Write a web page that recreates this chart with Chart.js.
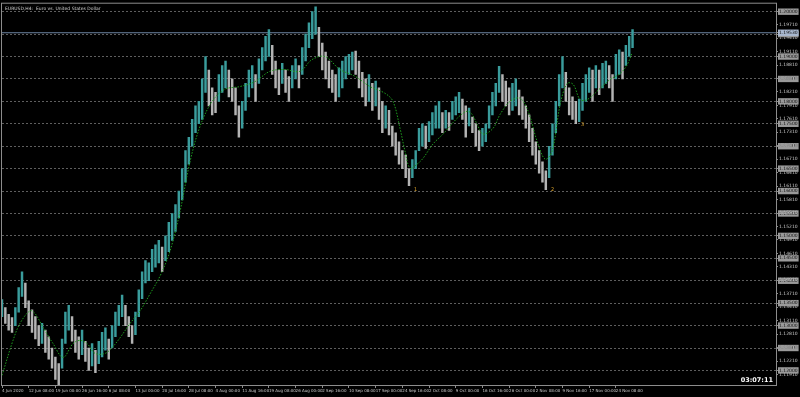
<!DOCTYPE html>
<html>
<head>
<meta charset="utf-8">
<title>EURUSD,H4</title>
<script src="https://cdn.jsdelivr.net/npm/chart.js@4"></script>
<style>
	html, body { margin: 0; background: #000; }
	#wrap { width: 800px; height: 397px; }
</style>
</head>
<body>
<div id="wrap"><canvas id="chart"></canvas></div>
<script>
const titleText = 'EURUSD,H4:  Euro vs. United States Dollar'
const clockText = '03:07:11'

// x axis: one label every 8 bars, axis runs to bar 232 (MT4 chart shift)
const timeLabels = ['4 Jun 2020', '12 Jun 08:00', '19 Jun 00:00', '26 Jun 16:00', '6 Jul 08:00', '13 Jul 00:00',
	'20 Jul 16:00', '28 Jul 08:00', '4 Aug 00:00', '11 Aug 16:00', '19 Aug 08:00', '26 Aug 00:00',
	'2 Sep 16:00', '10 Sep 08:00', '17 Sep 00:00', '24 Sep 16:00', '2 Oct 08:00', '9 Oct 00:00',
	'16 Oct 16:00', '26 Oct 00:00', '2 Nov 08:00', '9 Nov 16:00', '17 Nov 00:00', '24 Nov 08:00']
const barsPerLabel = 8
const lastIndex = 232

const lows = [
	1.1320, 1.1305, 1.1290, 1.1285, 1.1300, 1.1330, 1.1365, 1.1340, 1.1300, 1.1285,
	1.1270, 1.1255, 1.1260, 1.1240, 1.1225, 1.1205, 1.1180, 1.1168, 1.1205, 1.1260,
	1.1290, 1.1265, 1.1240, 1.1225, 1.1235, 1.1220, 1.1200, 1.1210, 1.1195, 1.1215,
	1.1230, 1.1245, 1.1225, 1.1250, 1.1275, 1.1300, 1.1320, 1.1300, 1.1275, 1.1260,
	1.1280, 1.1320, 1.1360, 1.1395, 1.1400, 1.1420, 1.1430, 1.1440, 1.1420, 1.1445,
	1.1465, 1.1490, 1.1510, 1.1540, 1.1580, 1.1620, 1.1660, 1.1700, 1.1730, 1.1750,
	1.1760, 1.1820, 1.1790, 1.1770, 1.1775, 1.1800, 1.1820, 1.1830, 1.1810, 1.1800,
	1.1770, 1.1720, 1.1740, 1.1780, 1.1810, 1.1830, 1.1800, 1.1840, 1.1870, 1.1890,
	1.1900, 1.1860, 1.1830, 1.1815, 1.1840, 1.1820, 1.1800, 1.1830, 1.1850, 1.1830,
	1.1860, 1.1890, 1.1920, 1.1940, 1.1950, 1.1900, 1.1870, 1.1850, 1.1830, 1.1820,
	1.1800, 1.1810, 1.1830, 1.1850, 1.1860, 1.1870, 1.1860, 1.1830, 1.1810, 1.1790,
	1.1800, 1.1780, 1.1790, 1.1760, 1.1730, 1.1740, 1.1725, 1.1700, 1.1680, 1.1660,
	1.1650, 1.1630, 1.1612, 1.1630, 1.1650, 1.1690, 1.1700, 1.1695, 1.1710, 1.1725,
	1.1740, 1.1740, 1.1730, 1.1740, 1.1735, 1.1760, 1.1770, 1.1775, 1.1760, 1.1720,
	1.1745, 1.1730, 1.1700, 1.1690, 1.1700, 1.1710, 1.1740, 1.1770, 1.1790, 1.1820,
	1.1800, 1.1790, 1.1770, 1.1780, 1.1790, 1.1770, 1.1760, 1.1740, 1.1710, 1.1680,
	1.1660, 1.1640, 1.1620, 1.1603, 1.1630, 1.1680, 1.1730, 1.1790, 1.1830, 1.1800,
	1.1770, 1.1760, 1.1750, 1.1755, 1.1780, 1.1800, 1.1820, 1.1800, 1.1830, 1.1815,
	1.1830, 1.1840, 1.1830, 1.1800, 1.1850, 1.1860, 1.1850, 1.1880, 1.1900, 1.1920]
const highs = [
	1.1358, 1.1340, 1.1325, 1.1318, 1.1340, 1.1385, 1.1420, 1.1395, 1.1355, 1.1335,
	1.1320, 1.1300, 1.1305, 1.1290, 1.1275, 1.1250, 1.1230, 1.1215, 1.1270, 1.1330,
	1.1345, 1.1320, 1.1290, 1.1275, 1.1290, 1.1265, 1.1250, 1.1260, 1.1245, 1.1265,
	1.1285, 1.1295, 1.1270, 1.1300, 1.1330, 1.1345, 1.1368, 1.1345, 1.1320, 1.1300,
	1.1330, 1.1380, 1.1420, 1.1445, 1.1440, 1.1470, 1.1480, 1.1490, 1.1475, 1.1500,
	1.1530, 1.1550, 1.1570, 1.1600, 1.1650, 1.1690, 1.1720, 1.1760, 1.1790, 1.1800,
	1.1850, 1.1900, 1.1870, 1.1830, 1.1820, 1.1860, 1.1880, 1.1890, 1.1870, 1.1850,
	1.1830, 1.1790, 1.1800, 1.1840, 1.1870, 1.1880, 1.1860, 1.1895, 1.1920, 1.1945,
	1.1960, 1.1925, 1.1890, 1.1870, 1.1885, 1.1870, 1.1855, 1.1880, 1.1895, 1.1880,
	1.1920, 1.1950, 1.1975, 1.2000, 1.2011, 1.1965, 1.1930, 1.1910, 1.1890, 1.1870,
	1.1860, 1.1875, 1.1890, 1.1900, 1.1905, 1.1910, 1.1912, 1.1890, 1.1865, 1.1850,
	1.1860, 1.1840, 1.1845, 1.1830, 1.1800, 1.1790, 1.1780, 1.1745, 1.1730, 1.1710,
	1.1690, 1.1680, 1.1650, 1.1670, 1.1690, 1.1740, 1.1750, 1.1745, 1.1755, 1.1775,
	1.1790, 1.1800, 1.1775, 1.1780, 1.1775, 1.1800, 1.1810, 1.1820, 1.1805, 1.1790,
	1.1785, 1.1765, 1.1750, 1.1735, 1.1740, 1.1750, 1.1790, 1.1820, 1.1840, 1.1878,
	1.1860, 1.1845, 1.1830, 1.1840, 1.1850, 1.1825, 1.1810, 1.1790, 1.1770, 1.1740,
	1.1710, 1.1690, 1.1665, 1.1645, 1.1700, 1.1750, 1.1800, 1.1860, 1.1900, 1.1865,
	1.1830, 1.1810, 1.1800, 1.1805, 1.1840, 1.1860, 1.1875, 1.1870, 1.1880, 1.1870,
	1.1885, 1.1890, 1.1880, 1.1860, 1.1905, 1.1915, 1.1910, 1.1925, 1.1945, 1.1960]

// moving average
const maIdx = [0, 3.3, 5.4, 8.4, 9.9, 12.3, 15.3, 18.3, 21.3, 23.4, 25.5, 27.9, 30.9, 33, 35.4, 38.4,
	41.4, 44.4, 47.4, 50.4, 53.4, 56.4, 59.4, 63, 66.8, 71.3, 75.8, 80.3, 84.8, 89.3, 92.9, 96.8,
	101.3, 105.8, 110.3, 114.8, 117.2, 119.3, 120.8, 122.3, 124.4, 126.2, 129.2, 132.2, 136.4,
	139.4, 140.9, 142.4, 144.2, 147.2, 149.3, 152.3, 155.3, 157.7, 160.4, 162.8, 164.9, 167.3,
	169.4, 171.2, 173.3, 175.4, 179.3, 182.3, 185.3, 187.4, 188.8]
const maVal = [1.1189, 1.1267, 1.1305, 1.1333, 1.1327, 1.1296, 1.1260, 1.1229, 1.1260, 1.1267,
	1.1260, 1.1238, 1.1238, 1.1251, 1.1273, 1.1305, 1.1333, 1.1371, 1.1411, 1.1467, 1.1556,
	1.1667, 1.1745, 1.1800, 1.1827, 1.1833, 1.1844, 1.1867, 1.1871, 1.1867, 1.1893, 1.1900,
	1.1871, 1.1856, 1.1833, 1.1818, 1.1800, 1.1740, 1.1689, 1.1651, 1.1660, 1.1673, 1.1705,
	1.1727, 1.1762, 1.1778, 1.1771, 1.1749, 1.1727, 1.1740, 1.1771, 1.1800, 1.1807, 1.1778,
	1.1711, 1.1671, 1.1689, 1.1793, 1.1840, 1.1838, 1.1804, 1.1804, 1.1829, 1.1849, 1.1862,
	1.1882, 1.1907]

// price axis
const yMin = 1.11675
const yMax = 1.20178
const levels = [1.200, 1.195, 1.190, 1.185, 1.180, 1.175, 1.170, 1.165, 1.160, 1.155, 1.150,
	1.145, 1.140, 1.135, 1.130, 1.125, 1.120]
const scaleLabels = [1.1971, 1.1941, 1.1911, 1.1881, 1.1851, 1.1821, 1.1791, 1.1761, 1.1731,
	1.1701, 1.1671, 1.1641, 1.1611, 1.1581, 1.1551, 1.1521, 1.1491, 1.1461, 1.1431, 1.1401,
	1.1371, 1.1341, 1.1311, 1.1281, 1.1251, 1.1221, 1.1191]
const bidPrice = 1.1953

const waveText = ['1', '2', '3']
const waveIdx = [124, 165, 174]
const wavePrice = [1.1604, 1.1602, 1.1747]

const FONT = 'DejaVu Sans'
const bull = '#3a9c9c'
const bear = '#b4b4b4'

function kind(v) {
	if (Math.abs(v - bidPrice) < 1e-7) return 'bid'
	if (levels.some(l => Math.abs(l - v) < 1e-7)) return 'level'
	return 'scale'
}

const barColors = highs.map((h, i) =>
	i && h + lows[i] < highs[i - 1] + lows[i - 1] ? bear : bull)

const overlay = {
	id: 'overlay',
	beforeDraw(chart) {
		const c = chart.ctx
		c.save()
		c.fillStyle = '#000'
		c.fillRect(0, 0, chart.width, chart.height)
		c.restore()
	},
	afterDatasetsDraw(chart) {
		const { ctx, chartArea: a, scales: { x, y } } = chart
		ctx.save()
		ctx.strokeStyle = '#8c8c8c'
		ctx.lineWidth = 1
		ctx.strokeRect(a.left - 0.5, a.top - 0.5, a.right - a.left + 1, a.bottom - a.top + 1)

		ctx.fillStyle = '#d0d0d0'
		ctx.font = `4.5px ${FONT}`
		ctx.textAlign = 'left'
		ctx.textBaseline = 'middle'
		ctx.fillText(titleText, a.left + 3, a.top + 5)

		ctx.fillStyle = '#d8a028'
		ctx.font = `5px ${FONT}`
		ctx.textAlign = 'center'
		waveText.forEach((t, i) => {
			ctx.fillText(t, x.getPixelForValue(waveIdx[i]), y.getPixelForValue(wavePrice[i]))
		})

		ctx.fillStyle = '#ffffff'
		ctx.font = `bold 6.5px ${FONT}`
		ctx.textAlign = 'right'
		ctx.fillText(clockText, a.right - 3, a.bottom - 5)
		ctx.restore()
	}
}

new Chart('chart', {
	type: 'bar',
	data: {
		datasets: [{
			data: highs.map((h, i) => ({ x: i, y: [lows[i], h] })),
			backgroundColor: barColors,
			barThickness: 1.8,
			order: 2
		}, {
			type: 'line',
			data: maIdx.map((k, i) => ({ x: k, y: maVal[i] })),
			borderColor: '#1fa01f',
			borderWidth: 1,
			borderDash: [1.5, 1.5],
			pointRadius: 0,
			tension: 0.35,
			order: 1
		}, {
			type: 'line',
			data: [{ x: 0, y: bidPrice }, { x: lastIndex, y: bidPrice }],
			borderColor: '#6d84a3',
			borderWidth: 1,
			pointRadius: 0,
			order: 3
		}]
	},
	options: {
		responsive: true,
		maintainAspectRatio: false,
		devicePixelRatio: 1,
		animation: false,
		layout: { padding: { left: 2, top: 2, right: 0, bottom: 0 } },
		plugins: {
			legend: { display: false },
			tooltip: { enabled: false }
		},
		scales: {
			x: {
				type: 'linear',
				min: 0,
				max: lastIndex,
				offset: false,
				afterBuildTicks: s => { s.ticks = timeLabels.map((t, i) => ({ value: i * barsPerLabel })) },
				afterFit: s => { s.height = 12 },
				border: { display: false },
				grid: { drawOnChartArea: false, offset: false, tickLength: 3, tickColor: '#8c8c8c' },
				ticks: {
					autoSkip: false,
					maxRotation: 0,
					align: 'start',
					padding: 1,
					color: '#c8c8c8',
					font: { family: FONT, size: 4 },
					callback: v => timeLabels[Math.round(v / barsPerLabel)]
				}
			},
			y: {
				position: 'right',
				min: yMin,
				max: yMax,
				afterBuildTicks: s => {
					s.ticks = [...levels, ...scaleLabels, bidPrice].sort((a, b) => a - b).map(v => ({ value: v }))
				},
				afterFit: s => { s.width = 24 },
				border: { display: false, dash: [2, 2] },
				grid: {
					color: c => c.tick && kind(c.tick.value) == 'level' ? '#5e5e5e' : 'rgba(0,0,0,0)',
					tickLength: 2,
					tickColor: '#8c8c8c'
				},
				ticks: {
					autoSkip: false,
					padding: 1,
					font: { family: FONT, size: 4.5 },
					color: c => c.tick && kind(c.tick.value) != 'scale' ? '#101010' : '#c8c8c8',
					showLabelBackdrop: c => !!c.tick && kind(c.tick.value) != 'scale',
					backdropColor: c => c.tick && kind(c.tick.value) == 'bid' ? '#a9b8cf' : '#9a9a9a',
					backdropPadding: { x: 1, y: 0.5 },
					callback: v => v.toFixed(5)
				}
			}
		}
	},
	plugins: [overlay]
})
</script>
</body>
</html>
